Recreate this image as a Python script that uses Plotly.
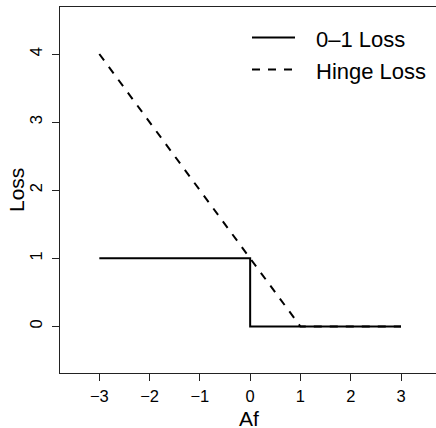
import plotly.graph_objects as go

# Data
zero_one_x = [-3, 0, 0, 3]
zero_one_y = [1, 1, 0, 0]
hinge_x = [-3, 1, 3]
hinge_y = [4, 0, 0]
series_names = ["0\u20131 Loss", "Hinge Loss"]
x_ticks = [-3, -2, -1, 0, 1, 2, 3]
x_ticklabels = ["\u22123", "\u22122", "\u22121", "0", "1", "2", "3"]
y_ticks = [0, 1, 2, 3, 4]
x_title = "Af"
y_title = "Loss"

W, H = 436, 428
L, R, T, B = 60, 436, 7, 373
PW, PH = R - L, B - T

def px(x):
    return (x - L) / PW

def py(y):
    return (B - y) / PH

FONT = "Liberation Sans, Arial, sans-serif"

fig = go.Figure()
fig.add_trace(go.Scatter(x=zero_one_x, y=zero_one_y, mode="lines",
                         line=dict(color="black", width=2), name=series_names[0],
                         showlegend=False, hoverinfo="skip"))
fig.add_trace(go.Scatter(x=hinge_x, y=hinge_y, mode="lines",
                         line=dict(color="black", width=2, dash="8px,8px"),
                         name=series_names[1], showlegend=False, hoverinfo="skip"))

# legend keys
fig.add_shape(type="line", xref="paper", yref="paper", x0=px(252), x1=px(295),
              y0=py(37.5), y1=py(37.5), line=dict(color="black", width=2))
fig.add_shape(type="line", xref="paper", yref="paper", x0=px(252), x1=px(295),
              y0=py(69.5), y1=py(69.5), line=dict(color="black", width=2, dash="8px,8px"))
for name, yy in zip(series_names, [40, 71]):
    fig.add_annotation(text=name, xref="paper", yref="paper", x=px(314), y=py(yy),
                       xanchor="left", yanchor="middle", showarrow=False,
                       font=dict(family=FONT, size=22, color="black"))

# axis titles
fig.add_annotation(text=x_title, xref="paper", yref="paper", x=px(249), y=py(418),
                   xanchor="center", yanchor="middle", showarrow=False,
                   font=dict(family=FONT, size=21, color="black"))
fig.add_annotation(text=y_title, xref="paper", yref="paper", x=px(16), y=py(190),
                   xanchor="center", yanchor="middle", showarrow=False, textangle=-90,
                   font=dict(family=FONT, size=21, color="black"))

fig.update_layout(
    width=W, height=H,
    margin=dict(l=L, r=W - R, t=T, b=H - B, pad=0),
    paper_bgcolor="white", plot_bgcolor="white",
    showlegend=False,
    font=dict(family=FONT, size=16, color="black"),
)
fig.update_xaxes(range=[-3.782, 3.696], tickvals=x_ticks, ticktext=x_ticklabels,
                 showgrid=False, zeroline=False, showline=True, linecolor="#222",
                 linewidth=1, mirror=True, ticks="outside", ticklen=7, tickcolor="#222",
                 ticklabelstandoff=1,
                 tickfont=dict(family=FONT, size=16.5, color="black"))
fig.update_yaxes(range=[-0.683, 4.69], tickvals=y_ticks,
                 showgrid=False, zeroline=False, showline=True, linecolor="#222",
                 linewidth=1, mirror=False, ticks="outside", ticklen=7, tickcolor="#222",
                 tickangle=-90, ticklabelstandoff=3,
                 tickfont=dict(family=FONT, size=16.5, color="black"))

fig.write_html("out.html", config={"displayModeBar": False, "staticPlot": True},
               post_script="document.body.style.margin='0';document.body.style.overflow='hidden';")
